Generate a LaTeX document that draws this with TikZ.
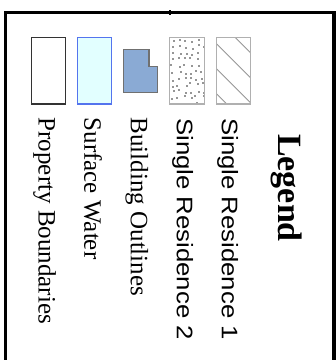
\documentclass[tikz,border=0pt]{standalone}
\usepackage{fontspec}
\setmainfont{Liberation Serif}
\newfontfamily\labelsans{Liberation Sans}
\definecolor{frameblack}{RGB}{0,0,0}
\definecolor{waterfill}{RGB}{226,255,255}
\definecolor{waterline}{RGB}{84,116,238}
\definecolor{bldfill}{RGB}{138,170,212}
\definecolor{bldline}{RGB}{112,112,112}
\definecolor{patline}{RGB}{176,176,176}
\definecolor{patmark}{RGB}{150,150,150}
\tikzset{
  swatch/.style={line width=1.3pt},
  serlabel/.style={rotate=-90, anchor=base west, inner sep=0pt, font=\fontsize{25}{30}\selectfont},
  sanslabel/.style={rotate=-90, anchor=base west, inner sep=0pt, font=\labelsans\fontsize{22.5}{27}\selectfont},
  titlelabel/.style={rotate=-90, anchor=base west, inner sep=0pt, font=\bfseries\fontsize{34}{40}\selectfont}
}
\begin{document}
\begin{tikzpicture}[x=1pt, y=-1pt]
  \useasboundingbox (0,0) rectangle (336,360);
  % outer frame (open at the bottom of the page)
  \draw[frameblack, line width=3.3pt] (5.7,380) -- (5.7,12.3) -- (334,12.3) -- (334,380);
  \fill[frameblack] (169,10) rectangle (171.5,15);

  % swatches
  \draw[swatch, black!80, fill=white] (31.3,37.3) rectangle (65.7,104);
  \draw[swatch, waterline, fill=waterfill] (77.3,37.3) rectangle (111.7,104);
  \draw[swatch, bldline, fill=bldfill] (123.3,49.3) -- (149,49.3) -- (149,66.7)
      -- (157.7,66.7) -- (157.7,92.3) -- (123.3,92.3) -- cycle;

  % single residence 2: stippled
  \begin{scope}
    \clip (169.3,37.3) rectangle (204.3,104);
    \pgfmathsetseed{11}
    \foreach \i in {0,...,5} {
      \foreach \j in {0,...,10} {
        \pgfmathsetmacro{\dx}{171.5 + \i*6.2 + 2.2*rand}
        \pgfmathsetmacro{\dy}{40 + \j*6.3 + 2.2*rand}
        \fill[patmark] (\dx,\dy) rectangle ++(2,2);
      }
    }
  \end{scope}
  \draw[swatch, patline] (169.3,37.3) rectangle (204.3,104);

  % single residence 1: hatched
  \begin{scope}
    \clip (216.3,37.3) rectangle (250.7,104);
    \foreach \k in {-3,...,4} {
      \draw[patmark, line width=0.9pt] (200,{2.3+25*\k}) -- (270,{72.3+25*\k});
    }
  \end{scope}
  \draw[swatch, patline] (216.3,37.3) rectangle (250.7,104);

  % labels
  \node[serlabel] (lprop) at (38.5,117.5) {Property Boundaries};
  \node[serlabel] (lwater) at (84.5,117.5) {Surface Water};
  \node[serlabel] (lbld) at (131,117.5) {Building Outlines};
  \node[sanslabel] (lres2) at (177,118) {\scalebox{1.144}[1]{Single Residence 2}};
  \node[sanslabel] (lres1) at (222,118) {\scalebox{1.144}[1]{Single Residence 1}};
  \node[titlelabel] (ltitle) at (278.5,134) {Legend};
\end{tikzpicture}
\end{document}
